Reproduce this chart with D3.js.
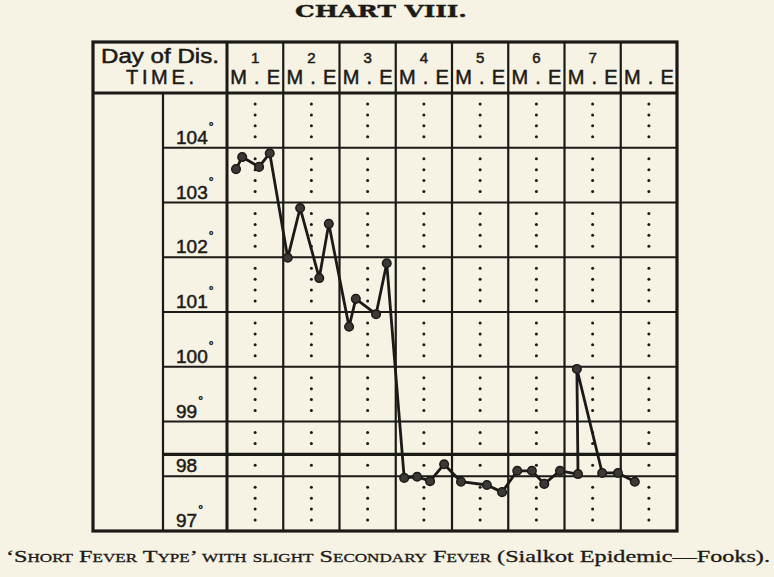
<!DOCTYPE html>
<html>
<head>
<meta charset="utf-8">
<script src="https://cdn.jsdelivr.net/npm/d3@7"></script>
<style>
  html, body { margin: 0; padding: 0; background: #f6f2e4; }
  svg { display: block; }
</style>
</head>
<body>
<svg id="chart" width="774" height="577"></svg>
<script>
// ---- data ----
const title = "CHART VIII.";
const headerLabel1 = "Day of Dis.";
const headerLabel2 = "TIME.";
const dayLabels = ["1", "2", "3", "4", "5", "6", "7", ""];
const timeLabels = ["M.E", "M.E", "M.E", "M.E", "M.E", "M.E", "M.E", "M.E"];
const tempTicks = [104, 103, 102, 101, 100, 99, 98, 97];
const gridTemps = [104, 103, 102, 101, 100, 99, 98];
const normalTemp = 98.4;
// reading position in days from the start of day 1, and temperature (°F)
const readingDay = [0.16, 0.27, 0.57, 0.76, 1.08, 1.30, 1.64, 1.81, 2.17, 2.29, 2.65, 2.84,
  3.15, 3.38, 3.61, 3.86, 4.16, 4.62, 4.89, 5.16, 5.42, 5.64, 5.92, 6.24, 6.22, 6.67, 6.95, 7.25];
const readingTemp = [103.61, 103.83, 103.65, 103.90, 101.99, 102.90, 101.62, 102.61, 100.73, 101.24, 100.96, 101.89,
  97.97, 97.99, 97.91, 98.22, 97.90, 97.84, 97.71, 98.10, 98.10, 97.86, 98.10, 98.04, 99.96, 98.06, 98.06, 97.90];
const captionSmallCaps = "‘Short Fever Type’ with slight Secondary Fever ";
const captionNormal = "(Sialkot Epidemic—Fooks).";

(function () {
// ---- layout ----
const ink = "#1c1a17";
const svg = d3.select("#chart");
const boxLeft = 93, boxRight = 677, boxTop = 42, headerBottom = 93, boxBottom = 531;
const labelColLeft = 163, plotLeft = 227;

const x = d3.scaleLinear().domain([0, 8]).range([plotLeft, boxRight]);
const y = d3.scaleLinear().domain([97, 105]).range([boxBottom, headerBottom]);

svg.append("rect").attr("width", 774).attr("height", 577).attr("fill", "#f6f2e4");

// title
svg.append("text").text(title)
  .attr("x", 295).attr("y", 17)
  .attr("textLength", 172).attr("lengthAdjust", "spacingAndGlyphs")
  .attr("font-family", "DejaVu Serif").attr("font-weight", "bold")
  .attr("font-size", 17).attr("fill", ink).attr("stroke", ink).attr("stroke-width", 0.4);

const g = svg.append("g");

// dotted centre lines in each day column
const dotTemps = d3.range(97.2, 105, 0.2).map(v => Math.round(v * 10) / 10)
  .filter(v => Math.abs(v - Math.round(v)) > 0.05 && Math.abs(v - normalTemp) > 0.05);
for (let d = 0; d < 8; d++) {
  g.selectAll(null).data(dotTemps).enter().append("circle")
    .attr("cx", x(d + 0.5)).attr("cy", v => y(v)).attr("r", 1.5).attr("fill", ink);
}

// horizontal grid lines
g.selectAll(null).data(gridTemps).enter().append("line")
  .attr("x1", labelColLeft).attr("x2", boxRight)
  .attr("y1", v => y(v)).attr("y2", v => y(v))
  .attr("stroke", ink).attr("stroke-width", 2.2);
g.append("line")
  .attr("x1", labelColLeft).attr("x2", boxRight)
  .attr("y1", y(normalTemp)).attr("y2", y(normalTemp))
  .attr("stroke", ink).attr("stroke-width", 3.4);

// vertical day lines
g.selectAll(null).data(d3.range(1, 8)).enter().append("line")
  .attr("x1", d => x(d)).attr("x2", d => x(d))
  .attr("y1", boxTop).attr("y2", boxBottom)
  .attr("stroke", ink).attr("stroke-width", 2.2);
g.append("line").attr("x1", labelColLeft).attr("x2", labelColLeft)
  .attr("y1", headerBottom).attr("y2", boxBottom).attr("stroke", ink).attr("stroke-width", 2.2);
g.append("line").attr("x1", plotLeft).attr("x2", plotLeft)
  .attr("y1", boxTop).attr("y2", boxBottom).attr("stroke", ink).attr("stroke-width", 3);
g.append("line").attr("x1", boxLeft).attr("x2", boxRight)
  .attr("y1", headerBottom).attr("y2", headerBottom).attr("stroke", ink).attr("stroke-width", 3);
g.append("rect").attr("x", boxLeft).attr("y", boxTop)
  .attr("width", boxRight - boxLeft).attr("height", boxBottom - boxTop)
  .attr("fill", "none").attr("stroke", ink).attr("stroke-width", 3.2);

// header texts
const sans = "Liberation Sans";
function inked(sel) { return sel.attr("fill", ink).attr("stroke", ink).attr("stroke-width", 0.5); }
inked(g.append("text").text(headerLabel1).attr("x", 101).attr("y", 63)
  .attr("textLength", 118).attr("lengthAdjust", "spacingAndGlyphs")
  .attr("font-family", sans).attr("font-size", 20));
inked(g.append("text").text(headerLabel2).attr("x", 126).attr("y", 84)
  .attr("textLength", 68).attr("lengthAdjust", "spacing")
  .attr("font-family", sans).attr("font-size", 20));
inked(g.selectAll(null).data(dayLabels).enter().append("text")
  .text(d => d).attr("x", (d, i) => x(i + 0.5)).attr("y", 63)
  .attr("text-anchor", "middle").attr("font-family", sans).attr("font-size", 15));
inked(g.selectAll(null).data(timeLabels).enter().append("text")
  .text(d => d).attr("x", (d, i) => x(i + 0.5) - 25).attr("y", 84)
  .attr("textLength", 50).attr("lengthAdjust", "spacing")
  .attr("font-family", sans).attr("font-size", 20));

// temperature labels
const tl = inked(g.selectAll(null).data(tempTicks).enter().append("text")
  .attr("x", 176).attr("y", v => y(v) - 4)
  .attr("font-family", sans).attr("font-size", 19));
tl.append("tspan").text(v => String(v));
tl.append("tspan").text(v => v === 98 ? "" : "°")
  .attr("dy", -13).attr("dx", 1).attr("font-size", 12);

// temperature line
const pts = readingDay.map((d, i) => [d, readingTemp[i]]);
const line = d3.line().x(p => x(p[0])).y(p => y(p[1]));
g.append("path").attr("d", line(pts)).attr("fill", "none")
  .attr("stroke", ink).attr("stroke-width", 2.8).attr("stroke-linejoin", "round");
g.selectAll(null).data(pts).enter().append("circle")
  .attr("cx", p => x(p[0])).attr("cy", p => y(p[1])).attr("r", 4.3)
  .attr("fill", "#3b3835").attr("stroke", ink).attr("stroke-width", 1.5);

// caption
const cap = svg.append("text").attr("x", 6).attr("y", 562)
  .attr("textLength", 764).attr("lengthAdjust", "spacingAndGlyphs")
  .attr("font-family", "Liberation Serif").attr("font-size", 17)
  .attr("fill", ink).attr("stroke", ink).attr("stroke-width", 0.3);
cap.append("tspan").text(captionSmallCaps).attr("font-variant", "small-caps");
cap.append("tspan").text(captionNormal);
})();
</script>
</body>
</html>
